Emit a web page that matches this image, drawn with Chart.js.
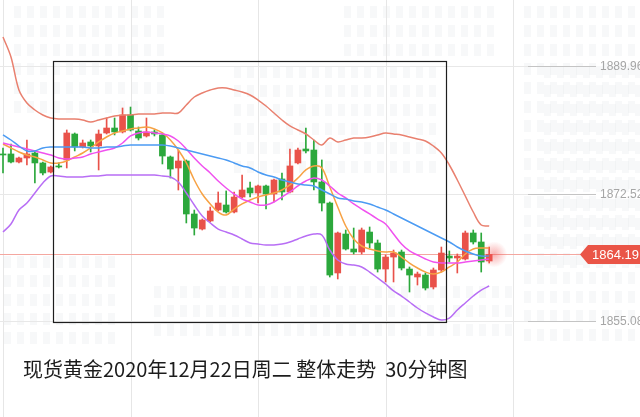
<!DOCTYPE html>
<html><head><meta charset="utf-8">
<script src="https://cdn.jsdelivr.net/npm/chart.js@4.4.1/dist/chart.umd.min.js"></script>
<style>html,body{margin:0;padding:0;background:#fff;overflow:hidden}canvas{display:block}</style>
</head><body>
<canvas id="c" width="640" height="417"></canvas>
<script>
// ---- data (30-minute candles, spot gold) ----
const opens = [1877.93,1877.93,1876.83,1877.38,1878.06,1876.70,1875.46,1876.29,1877.11,1880.66,
1878.88,1879.57,1879.02,1880.80,1881.48,1880.94,1883.26,1881.07,1880.39,1880.94,
1880.53,1877.52,1876.01,1876.97,1869.72,1867.66,1868.76,1870.26,1870.95,1869.99,
1872.04,1873.28,1872.59,1873.55,1872.45,1874.51,1872.73,1876.70,1878.61,1878.47,
1874.10,1871.22,1861.65,1866.98,1864.93,1864.52,1867.25,1865.75,1862.19,1863.83,
1864.52,1862.19,1861.10,1861.37,1859.73,1862.06,1863.97,1863.70,1863.56,1867.12,
1865.89,1863.29];
const closes = [1877.79,1876.83,1877.38,1877.93,1876.70,1875.33,1876.15,1876.15,1880.80,1878.88,
1879.43,1879.02,1880.66,1881.48,1880.94,1883.26,1881.21,1880.11,1880.94,1880.66,
1877.65,1875.87,1876.97,1869.72,1867.80,1868.90,1870.13,1871.22,1869.99,1872.04,
1873.00,1872.59,1873.55,1872.45,1874.37,1872.73,1876.29,1878.47,1878.34,1874.10,
1871.22,1861.37,1867.12,1864.93,1864.52,1867.53,1865.75,1862.19,1863.83,1864.38,
1862.33,1861.37,1861.51,1859.59,1862.06,1864.38,1863.70,1863.97,1867.12,1865.89,
1863.15,1864.19];
const highs = [1878.75,1879.29,1877.52,1879.84,1878.34,1876.83,1876.29,1876.70,1881.21,1880.80,
1879.84,1879.84,1881.21,1882.85,1882.85,1884.22,1884.35,1881.62,1882.85,1881.21,
1880.80,1877.65,1878.47,1877.11,1870.26,1869.03,1870.67,1872.73,1872.87,1872.73,
1875.05,1874.10,1873.69,1873.69,1874.51,1875.33,1878.61,1878.75,1881.48,1879.84,
1877.11,1871.36,1867.25,1867.53,1867.80,1867.80,1867.94,1866.16,1864.11,1864.79,
1864.79,1862.47,1861.78,1861.65,1862.33,1865.20,1864.66,1864.25,1867.39,1867.53,
1867.12,1865.20];
const lows = [1875.33,1876.70,1876.70,1876.42,1873.96,1875.05,1875.33,1876.01,1876.01,1878.34,
1878.75,1878.20,1875.74,1880.66,1880.53,1880.80,1881.07,1879.84,1880.25,1880.39,
1876.56,1874.64,1873.00,1868.49,1866.84,1867.53,1868.62,1870.13,1869.85,1869.85,
1871.91,1872.04,1871.22,1870.40,1871.36,1871.63,1872.59,1876.56,1878.06,1873.00,
1870.13,1861.10,1860.83,1864.79,1864.25,1864.25,1865.07,1861.78,1860.42,1860.42,
1862.06,1859.05,1860.00,1859.32,1859.46,1861.78,1863.15,1861.65,1863.42,1865.61,
1861.78,1863.01];
const bollUpper = [1893.93,1891.19,1886.68,1884.90,1883.94,1883.26,1882.85,1882.71,1882.71,1882.71,
1882.58,1882.30,1882.58,1882.85,1883.12,1883.26,1883.26,1883.40,1883.40,1883.40,
1883.53,1883.53,1883.53,1884.63,1885.72,1886.27,1886.68,1886.95,1886.95,1886.68,
1886.41,1886.00,1885.31,1884.49,1883.53,1882.58,1881.76,1881.21,1880.66,1879.84,
1879.16,1880.11,1879.57,1879.84,1880.11,1880.11,1880.25,1880.53,1880.80,1880.66,
1880.53,1880.25,1879.98,1879.70,1879.02,1878.06,1876.42,1874.37,1872.18,1869.99,
1868.21,1868.08];
const bollLower = [1867.25,1868.35,1870.26,1871.22,1872.59,1873.96,1874.92,1874.92,1874.78,1874.78,
1874.78,1874.92,1874.92,1875.05,1875.05,1875.05,1875.05,1875.05,1875.05,1875.05,
1874.92,1874.78,1874.10,1872.59,1870.95,1869.45,1868.49,1867.66,1867.25,1866.84,
1866.30,1865.75,1865.61,1865.48,1865.48,1865.61,1865.89,1866.30,1866.71,1866.98,
1866.84,1864.79,1863.42,1862.88,1862.74,1862.47,1861.78,1860.97,1860.14,1859.19,
1858.50,1857.68,1856.86,1856.18,1855.63,1855.22,1855.49,1856.59,1857.55,1858.50,
1859.32,1859.87];
const maBlue = [1880.53,1879.84,1879.02,1878.34,1878.34,1878.75,1878.88,1878.88,1878.88,1878.88,
1878.88,1878.75,1878.75,1878.88,1878.88,1879.02,1879.16,1879.16,1879.16,1879.16,
1879.16,1879.02,1878.75,1878.47,1878.20,1877.93,1877.65,1877.38,1877.11,1876.70,
1876.29,1876.01,1875.46,1875.05,1874.78,1874.37,1874.10,1873.82,1873.69,1873.55,
1873.00,1872.45,1871.91,1871.77,1871.50,1871.36,1871.09,1870.67,1870.26,1869.72,
1869.17,1868.62,1868.08,1867.53,1866.98,1866.44,1865.89,1865.20,1864.66,1864.25,
1863.97,1863.97];
const maMagenta = [1879.43,1879.16,1878.88,1878.61,1878.34,1878.06,1877.79,1877.38,1877.24,1877.38,
1877.52,1877.93,1878.20,1878.47,1878.75,1879.43,1880.39,1880.80,1880.94,1880.80,
1880.66,1880.39,1879.70,1878.61,1877.38,1876.29,1875.33,1874.23,1873.28,1872.45,
1871.77,1871.36,1870.95,1870.95,1871.36,1872.04,1872.73,1873.55,1874.23,1874.64,
1874.37,1873.55,1872.59,1871.91,1871.09,1870.40,1869.72,1869.03,1868.35,1866.98,
1865.61,1864.66,1864.11,1863.56,1863.15,1863.01,1863.01,1863.01,1863.15,1863.29,
1863.42,1863.56];
const maOrange = [1879.29,1878.75,1878.20,1877.79,1877.52,1877.11,1876.70,1876.70,1876.97,1877.52,
1878.06,1878.75,1879.57,1880.25,1880.80,1881.07,1881.35,1881.48,1881.62,1881.35,
1880.80,1879.84,1878.47,1876.70,1874.37,1872.45,1871.09,1869.99,1869.58,1870.40,
1871.09,1871.63,1872.04,1872.32,1872.59,1873.00,1873.69,1874.64,1875.74,1876.29,
1876.01,1873.41,1870.67,1868.08,1866.30,1865.34,1864.93,1864.66,1864.52,1864.52,
1863.83,1863.01,1862.33,1861.78,1861.51,1861.78,1862.47,1863.15,1864.25,1864.93,
1865.07,1865.07];
const priceTicks = [1889.96, 1872.52, 1855.08];
const timeGrid = [0, 16, 32, 48, 64];
const currentPrice = 1864.19;
const focusBoxX = [6.27, 55.58];
const focusBoxY = [1854.99, 1890.65];
const caption = '现货黄金2020年12月22日周二 整体走势  30分钟图';

// ---- build ----
const UP = '#e9524a', DOWN = '#2ca83c';
const idx = opens.map((_, i) => i);
const cols = idx.map(i => closes[i] >= opens[i] ? UP : DOWN);
const wickData = idx.map(i => ({x: i, y: [lows[i], highs[i]]}));
const bodyData = idx.map(i => ({x: i, y: [Math.min(opens[i], closes[i]), Math.max(opens[i], closes[i])]}));
const line = (arr, color) => ({
  type: 'line', data: arr.map((v, i) => ({x: i, y: v})), borderColor: color, borderWidth: 1.5,
  pointRadius: 0, tension: 0.35, fill: false, order: 0
});

const decor = {
  id: 'decor',
  beforeDatasetsDraw(chart) {
    const {ctx} = chart, xs = chart.scales.x, ys = chart.scales.y;
    ctx.save();
    // faint building texture
    ctx.fillStyle = 'rgba(228,229,235,0.28)';
    const blocks = [[10,0,150,120],[230,60,200,120],[340,0,160,60],[520,0,120,330],[0,250,120,90],[150,280,360,60],[540,60,100,200]];
    blocks.forEach(([bx,by,bw,bh]) => {
      for (let yy = by + 6; yy < by + bh; yy += 19)
        for (let xx = bx + 4; xx < bx + bw; xx += 13) ctx.fillRect(xx, yy, 7, 12);
    });
    ctx.lineWidth = 1;
    ctx.strokeStyle = '#e6e6e6';
    timeGrid.forEach(t => {
      const x = Math.round(xs.getPixelForValue(t)) + 0.5;
      ctx.beginPath(); ctx.moveTo(x, 0); ctx.lineTo(x, chart.height); ctx.stroke();
    });
    priceTicks.forEach(p => {
      const y = Math.round(ys.getPixelForValue(p)) + 0.5;
      ctx.strokeStyle = '#e8e8e8';
      ctx.beginPath(); ctx.moveTo(0, y); ctx.lineTo(528, y); ctx.stroke();
      ctx.strokeStyle = '#c4c4c4';
      ctx.beginPath(); ctx.moveTo(528, y); ctx.lineTo(596, y); ctx.stroke();
    });
    const yp = Math.round(ys.getPixelForValue(currentPrice)) + 0.5;
    ctx.strokeStyle = '#f4a7a0';
    ctx.beginPath(); ctx.moveTo(0, yp); ctx.lineTo(582, yp); ctx.stroke();
    ctx.restore();
  },
  afterDatasetsDraw(chart) {
    const {ctx} = chart, xs = chart.scales.x, ys = chart.scales.y;
    ctx.save();
    // glow on latest candle
    const gx = xs.getPixelForValue(idx.length - 1) + 5, gy = ys.getPixelForValue(currentPrice);
    const g = ctx.createRadialGradient(gx, gy, 0, gx, gy, 13);
    g.addColorStop(0, 'rgba(240,80,80,0.45)'); g.addColorStop(1, 'rgba(240,80,80,0)');
    ctx.fillStyle = g; ctx.beginPath(); ctx.arc(gx, gy, 13, 0, Math.PI * 2); ctx.fill();
    // focus box
    const x1 = Math.round(xs.getPixelForValue(focusBoxX[0])) + 0.5, x2 = Math.round(xs.getPixelForValue(focusBoxX[1])) + 0.5;
    const y1 = Math.round(ys.getPixelForValue(focusBoxY[1])) + 0.5, y2 = Math.round(ys.getPixelForValue(focusBoxY[0])) + 0.5;
    ctx.strokeStyle = '#1e1e1e'; ctx.lineWidth = 1.2;
    ctx.strokeRect(x1, y1, x2 - x1, y2 - y1);
    // price labels
    ctx.font = '12px "Liberation Sans", Arial, sans-serif';
    ctx.fillStyle = '#a6a6a6'; ctx.textBaseline = 'middle'; ctx.textAlign = 'left';
    priceTicks.forEach(p => ctx.fillText(p.toFixed(2), 600, ys.getPixelForValue(p) + 1));
    // current price tag
    const ty = ys.getPixelForValue(currentPrice);
    ctx.fillStyle = '#ea5547';
    ctx.beginPath();
    ctx.moveTo(580, ty); ctx.lineTo(588, ty - 9.5); ctx.lineTo(642, ty - 9.5); ctx.lineTo(642, ty + 9.5); ctx.lineTo(588, ty + 9.5);
    ctx.closePath(); ctx.fill();
    ctx.fillStyle = '#fff'; ctx.font = '13px "Liberation Sans", Arial, sans-serif';
    ctx.fillText(currentPrice.toFixed(2), 592, ty + 1);
    // caption
    ctx.fillStyle = '#1c1c1c';
    ctx.font = '20px "Noto Sans CJK SC", sans-serif';
    ctx.textBaseline = 'alphabetic';
    ctx.fillText(caption, 23, 377);
    ctx.restore();
  }
};

new Chart(document.getElementById('c'), {
  type: 'bar',
  data: {
    datasets: [
      line(bollUpper, '#e9806f'),
      line(bollLower, '#b86ef5'),
      line(maBlue, '#4b9bf3'),
      line(maMagenta, '#f052ef'),
      line(maOrange, '#f7a244'),
      {type: 'bar', data: bodyData, backgroundColor: cols, barThickness: 6, grouped: false, minBarLength: 1, order: 1, borderWidth: 0},
      {type: 'bar', data: wickData, backgroundColor: cols, barThickness: 1, grouped: false, order: 2, borderWidth: 0}
    ]
  },
  options: {
    responsive: false, animation: false, devicePixelRatio: 1,
    layout: {padding: 0},
    plugins: {legend: {display: false}, tooltip: {enabled: false}},
    scales: {
      x: {type: 'linear', display: false, min: -0.376, max: 79.92, offset: false},
      y: {type: 'linear', display: false, min: 1841.95, max: 1898.99}
    }
  },
  plugins: [decor]
});
</script>
</body></html>
